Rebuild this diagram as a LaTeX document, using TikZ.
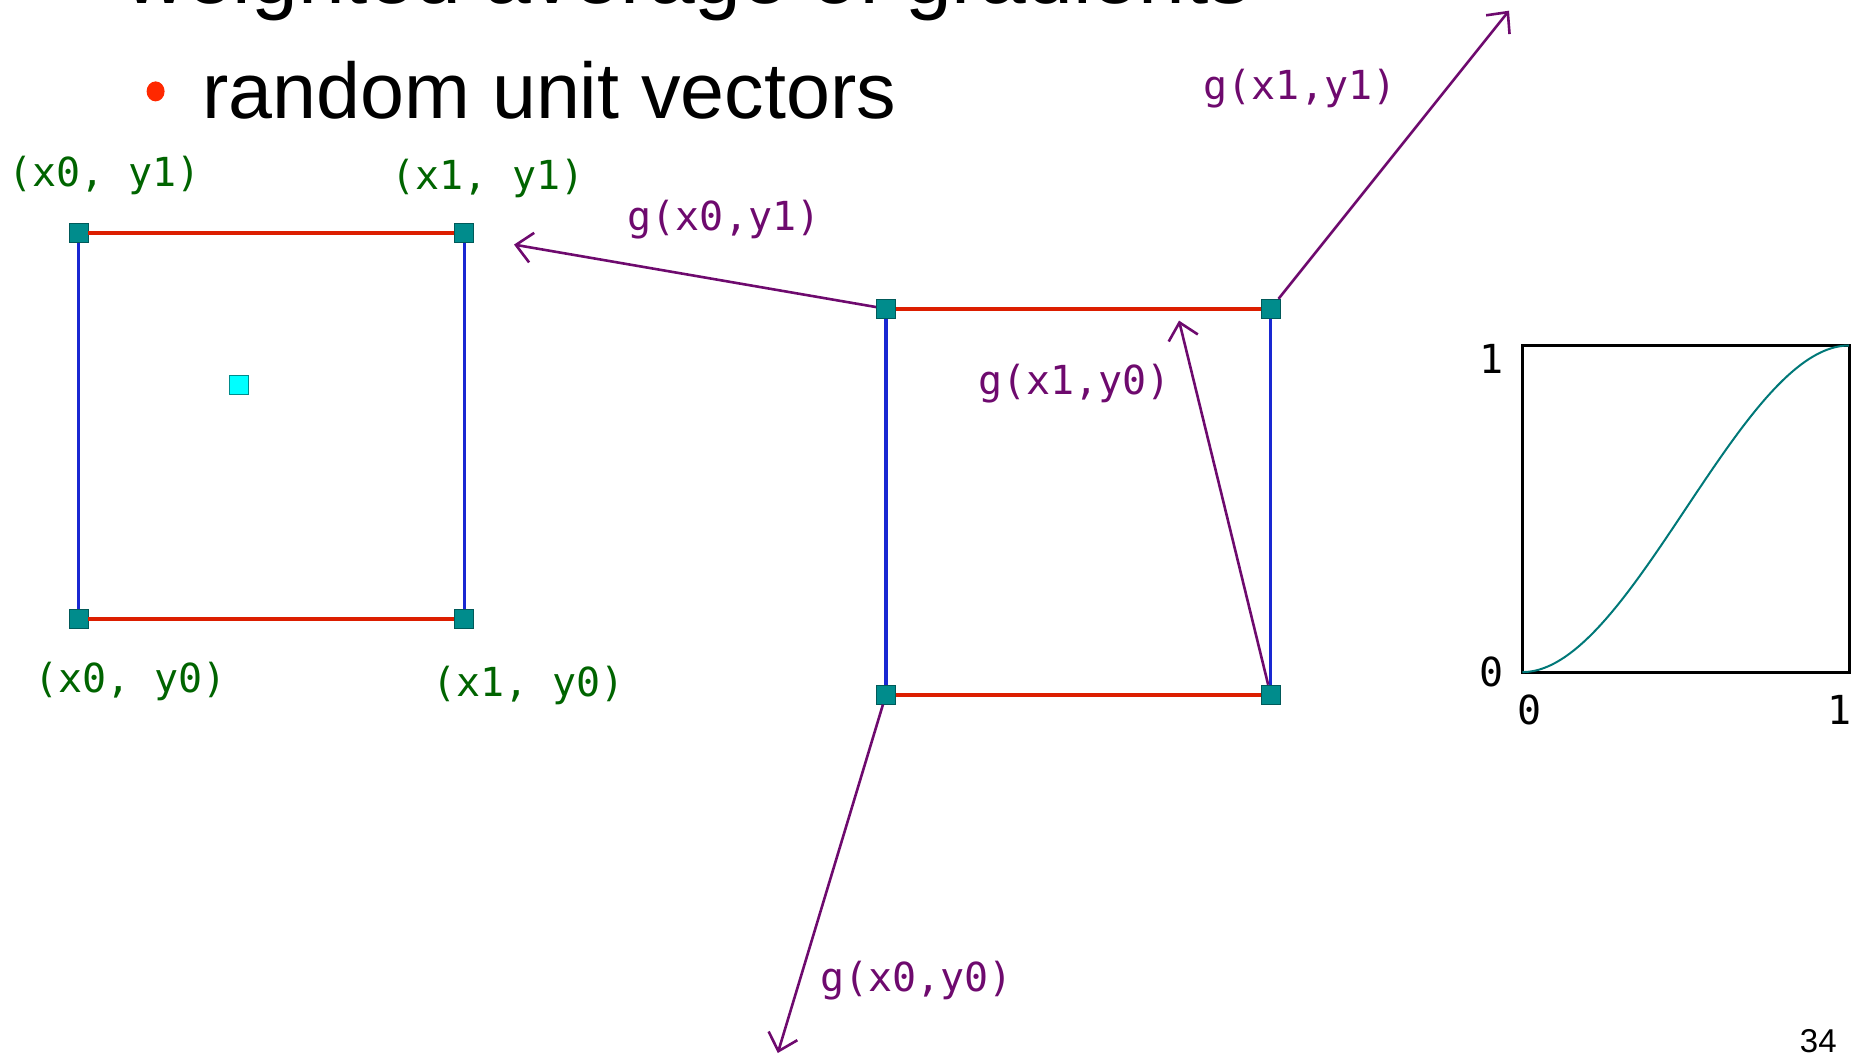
\documentclass[tikz,border=0pt]{standalone}
\usepackage{fontspec}
\setmainfont{Liberation Sans}
\newfontfamily\pixfont{DejaVu Sans Mono}
\usetikzlibrary{arrows.meta,positioning}

\definecolor{edgered}{RGB}{220,30,0}
\definecolor{edgeblue}{RGB}{25,40,210}
\definecolor{marker}{RGB}{0,140,140}
\definecolor{markerdark}{RGB}{0,90,90}
\definecolor{cornergreen}{RGB}{0,100,0}
\definecolor{gradpurple}{RGB}{110,10,110}
\definecolor{ptcyan}{RGB}{0,255,255}
\definecolor{curveteal}{RGB}{0,120,120}
\definecolor{bulletred}{RGB}{255,40,0}

\tikzset{
  corner/.style={draw=markerdark, fill=marker, minimum size=9.5pt, inner sep=0pt, line width=0.4pt},
  redge/.style={edgered, line width=1.8pt},
  bedge/.style={edgeblue, line width=1.8pt},
  cornerlbl/.style={text=cornergreen, inner sep=0pt, font=\pixfont\fontsize{20}{24}\selectfont},
  grad/.style={gradpurple, line width=1.3pt, -{Straight Barb[length=8pt,width=15pt]}},
  gradlbl/.style={text=gradpurple, inner sep=0pt, font=\pixfont\fontsize{20}{24}\selectfont},
  ticklbl/.style={inner sep=0pt, font=\pixfont\fontsize{20}{24}\selectfont},
}

\begin{document}
\begin{tikzpicture}[x=0.5pt,y=-0.5pt]
\useasboundingbox (0,0) rectangle (1862,1058);

% heading lines
\node[anchor=base west, inner sep=0pt, font=\fontsize{42}{48}\selectfont] (head) at (125,4) {weighted average of gradients};
\fill[bulletred] (155.6,91.4) ellipse [x radius=9, y radius=10];
\node[anchor=base west, inner sep=0pt, font=\fontsize{39.5}{46}\selectfont] (sub) at (202,118.75) {random unit vectors};

% left cell
\node[corner] (L00) at (78.4,618.7) {};
\node[corner] (L10) at (464.3,618.7) {};
\node[corner] (L01) at (78.4,232.8) {};
\node[corner] (L11) at (464.3,232.8) {};
\draw[redge] (L01) -- (L11) (L00) -- (L10);
\draw[bedge] (L01) -- (L00) (L11) -- (L10);
\node[corner, draw=marker, fill=ptcyan] (pt) at (238.5,385) {};

\node[cornerlbl] (t01) at (104.5,175.75) {(x0, y1)};
\node[cornerlbl] (t11) at (488,178) {(x1, y1)};
\node[cornerlbl] (t00) at (130.6,681.6) {(x0, y0)};
\node[cornerlbl] (t10) at (528.4,685.2) {(x1, y0)};

% right cell
\node[corner] (R00) at (885.9,694.7) {};
\node[corner] (R10) at (1270.6,694.7) {};
\node[corner] (R01) at (885.9,308.75) {};
\node[corner] (R11) at (1270.6,308.75) {};
\draw[redge] (R01) -- (R11) (R00) -- (R10);
\draw[bedge] (R01) -- (R00) (R11) -- (R10);

% gradients
\coordinate (g01) at (514,244.6);
\coordinate (g11) at (1509,10.7);
\coordinate (g10) at (1179,320.6);
\coordinate (g00) at (777.8,1053);
\draw[grad] (R01) -- (g01);
\draw[grad] (R11) -- (g11);
\draw[grad] (R10) -- (g10);
\draw[grad] (R00) -- (g00);
\node[gradlbl] (n01) at (724,220) {g(x0,y1)};
\node[gradlbl] (n11) at (1300,89) {g(x1,y1)};
\node[gradlbl] (n10) at (1074.7,383.6) {g(x1,y0)};
\node[gradlbl] (n00) at (916.75,981) {g(x0,y0)};

% fade curve
\begin{scope}[shift={(1522.4,672.1)}, x=163.3pt, y=163.3pt]
  \draw[line width=1.5pt] (0,0) rectangle (1,1);
  \draw[curveteal, line width=1pt, domain=0:1, samples=60, smooth] plot (\x,{3*\x*\x-2*\x*\x*\x});
\end{scope}
\node[ticklbl] (y1) at (1491.5,358.6) {1};
\node[ticklbl] (y0) at (1491.5,672.1) {0};
\node[ticklbl] (x0) at (1529.5,710) {0};
\node[ticklbl] (x1) at (1839.5,710) {1};

% page number
\node[anchor=base east, inner sep=0pt, font=\fontsize{16.5}{20}\selectfont] (page) at (1837,1052) {34};
\end{tikzpicture}
\end{document}
